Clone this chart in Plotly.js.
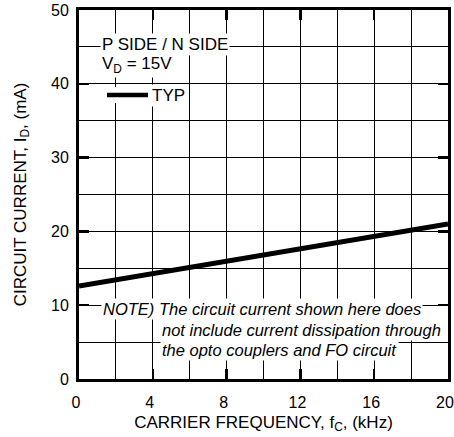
<!DOCTYPE html>
<html><head><meta charset="utf-8">
<script src="https://cdn.plot.ly/plotly-3.0.1.min.js"></script>
<style>html,body{margin:0;padding:0;background:#fff;}#chart{width:454px;height:437px;}</style>
</head><body><div id="chart"></div>
<script>
const frequency = [0, 4, 8, 12, 16, 20];
const current = [12.6, 14.3, 16.0, 17.7, 19.3, 21.0];
const xTickVals = [0, 4, 8, 12, 16, 20];
const yTickVals = [0, 10, 20, 30, 40, 50];

const L=79, R=448, T=10, B=379;
const W=R-L, H=B-T;
const px = x => (x-L)/W, py = y => (B-y)/H;
const fam = 'Liberation Sans, Arial, sans-serif';
const font = {family:fam, size:17, color:'#000'};
const tickFont = {family:fam, size:16, color:'#000'};
const noteFont = {family:fam, size:16.5, color:'#000', style:'italic'};

const trace = {x: frequency, y: current, mode:'lines', line:{color:'#000', width:5}, showlegend:false, hoverinfo:'skip'};

function ann(text, x, y, f){
  return {text, xref:'paper', yref:'paper', x:px(x), y:py(y), xanchor:'left', yanchor:'middle',
    showarrow:false, font:f||font, bgcolor:'#fff', borderpad:1};
}

const axBase = {ticks:'inside', ticklen:10, tickwidth:2.5, tickcolor:'#000',
  showgrid:true, gridcolor:'#000', gridwidth:1, zeroline:false, showline:true, linecolor:'#000', linewidth:3, mirror:'allticks',
  tickfont:tickFont, fixedrange:true};

const layout = {
  width:454, height:437,
  margin:{l:L, r:454-R, t:T, b:437-B},
  paper_bgcolor:'#fff', plot_bgcolor:'#fff',
  xaxis:Object.assign({}, axBase, {range:[0,20], tickvals:xTickVals, ticklabelshift:-3, ticklabelstandoff:7,
    minor:{dtick:2, tick0:0, showgrid:true, gridcolor:'#000', gridwidth:1, ticks:''},
    title:{text:'CARRIER FREQUENCY, f<sub>C</sub>, (kHz)', font:font, standoff:6}}),
  yaxis:Object.assign({}, axBase, {range:[0,50], tickvals:yTickVals, ticklabelstandoff:4,
    minor:{dtick:5, tick0:0, showgrid:true, gridcolor:'#000', gridwidth:1, ticks:''},
    title:{text:'CIRCUIT CURRENT, I<sub>D</sub>, (mA)', font:font, standoff:21}}),
  annotations:[
    ann('P SIDE / N SIDE', 100, 45),
    ann('V<sub>D</sub> = 15V', 100, 65),
    ann('TYP', 150, 95),
    ann('NOTE) The circuit current shown here does', 101, 309, noteFont),
    ann('not include current dissipation through', 160, 330, noteFont),
    ann('the opto couplers and FO circuit', 160, 350, noteFont)
  ],
  shapes:[
    {type:'rect', xref:'paper', yref:'paper', x0:px(104), x1:px(151), y0:py(87), y1:py(103), fillcolor:'#fff', line:{width:0}, layer:'above'},
    {type:'line', xref:'paper', yref:'paper', x0:px(107), x1:px(148), y0:py(95), y1:py(95), line:{color:'#000', width:4.5}, layer:'above'}
  ]
};
Plotly.newPlot('chart', [trace], layout, {displayModeBar:false, staticPlot:true});
</script></body></html>
